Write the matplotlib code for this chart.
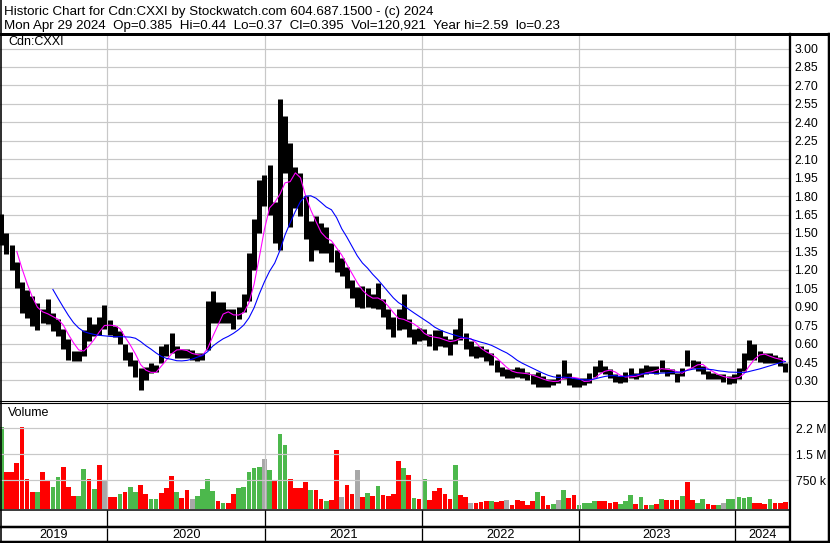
import numpy as np
import pandas as pd
import matplotlib
matplotlib.use('Agg')
import matplotlib.pyplot as plt
import matplotlib.dates as mdates

plt.rcParams['font.family'] = ['Liberation Sans', 'DejaVu Sans']

# ---- data (12-day bins) ----
hi = [1.655, 1.50, 1.40, 1.26, 1.10, 1.04, 0.99, 0.93, 0.88, 0.96,
      0.85, 0.80, 0.72, 0.64, 0.54, 0.54, 0.71, 0.82, 0.76, 0.82,
      0.91, 0.79, 0.74, 0.70, 0.60, 0.53, 0.47, 0.40, 0.41, 0.44,
      0.43, 0.58, 0.60, 0.69, 0.58, 0.56, 0.56, 0.55, 0.52, 0.52,
      0.95, 1.03, 0.94, 0.94, 0.88, 0.88, 0.90, 1.00, 1.34, 1.61,
      1.93, 1.97, 2.05, 1.75, 2.59, 2.45, 2.23, 2.04, 1.99, 1.80,
      1.60, 1.64, 1.58, 1.55, 1.42, 1.36, 1.30, 1.22, 1.12, 1.06,
      1.07, 1.05, 1.00, 1.09, 0.96, 0.88, 0.82, 0.88, 1.00, 0.80,
      0.72, 0.73, 0.72, 0.68, 0.71, 0.71, 0.66, 0.64, 0.72, 0.81,
      0.69, 0.62, 0.58, 0.58, 0.56, 0.52, 0.47, 0.41, 0.39, 0.39,
      0.41, 0.40, 0.37, 0.35, 0.37, 0.34, 0.31, 0.31, 0.35, 0.47,
      0.36, 0.32, 0.32, 0.32, 0.36, 0.42, 0.47, 0.42, 0.39, 0.35,
      0.34, 0.37, 0.40, 0.36, 0.40, 0.43, 0.42, 0.42, 0.47, 0.40,
      0.39, 0.36, 0.40, 0.55, 0.47, 0.46, 0.42, 0.38, 0.36, 0.35,
      0.35, 0.34, 0.35, 0.40, 0.52, 0.63, 0.60, 0.54, 0.52, 0.52,
      0.51, 0.49, 0.44]
lo = [1.40, 1.33, 1.20, 1.05, 0.85, 0.81, 0.74, 0.71, 0.77, 0.76,
      0.70, 0.66, 0.56, 0.47, 0.46, 0.46, 0.50, 0.62, 0.66, 0.67,
      0.72, 0.67, 0.65, 0.60, 0.47, 0.42, 0.33, 0.22, 0.30, 0.36,
      0.37, 0.44, 0.50, 0.52, 0.48, 0.48, 0.48, 0.47, 0.46, 0.47,
      0.55, 0.77, 0.77, 0.77, 0.77, 0.72, 0.80, 0.86, 0.95, 1.20,
      1.50, 1.72, 1.65, 1.42, 1.36, 1.99, 1.55, 1.70, 1.64, 1.45,
      1.27, 1.36, 1.34, 1.34, 1.26, 1.18, 1.15, 1.05, 0.97, 0.90,
      0.89, 0.90, 0.89, 0.88, 0.82, 0.72, 0.65, 0.71, 0.72, 0.65,
      0.60, 0.62, 0.63, 0.58, 0.55, 0.58, 0.57, 0.51, 0.60, 0.63,
      0.56, 0.50, 0.48, 0.49, 0.46, 0.43, 0.37, 0.34, 0.32, 0.32,
      0.33, 0.32, 0.30, 0.27, 0.25, 0.25, 0.25, 0.26, 0.28, 0.31,
      0.26, 0.25, 0.25, 0.26, 0.28, 0.33, 0.37, 0.35, 0.32, 0.29,
      0.28, 0.29, 0.32, 0.31, 0.33, 0.35, 0.36, 0.35, 0.37, 0.34,
      0.35, 0.29, 0.34, 0.42, 0.40, 0.38, 0.35, 0.31, 0.31, 0.31,
      0.29, 0.27, 0.28, 0.31, 0.38, 0.47, 0.47, 0.45, 0.44, 0.44,
      0.44, 0.42, 0.37]
# volume in millions, direction: g = up, r = down, n = unchanged
vol = [2.3, 1.0, 1.0, 1.25, 2.3, 0.8, 0.4, 0.4, 1.0, 0.76,
       0.55, 0.84, 1.12, 0.55, 0.3, 0.3, 1.07, 0.8, 0.5, 1.2,
       0.76, 0.28, 0.28, 0.35, 0.4, 0.57, 0.42, 0.6, 0.35, 0.2,
       0.2, 0.37, 0.52, 0.86, 0.42, 0.25, 0.47, 0.22, 0.3, 0.49,
       0.8, 0.45, 0.15, 0.1, 0.1, 0.35, 0.52, 0.55, 1.0, 1.1,
       1.14, 1.36, 1.05, 0.76, 2.09, 1.77, 0.78, 0.52, 0.52, 0.71,
       0.47, 0.47, 0.2, 0.15, 0.18, 1.62, 0.28, 0.6, 0.35, 1.05,
       0.28, 0.37, 0.3, 0.59, 0.32, 0.3, 0.35, 1.3, 1.1, 0.9,
       0.25, 0.2, 0.79, 0.18, 0.44, 0.54, 0.36, 0.22, 1.19, 0.33,
       0.28, 0.1, 0.1, 0.13, 0.15, 0.15, 0.12, 0.15, 0.18, 0.05,
       0.18, 0.15, 0.05, 0.15, 0.41, 0.3, 0.05, 0.08, 0.18, 0.47,
       0.25, 0.33, 0.05, 0.1, 0.1, 0.14, 0.14, 0.14, 0.1, 0.12,
       0.08, 0.14, 0.33, 0.08, 0.27, 0.05, 0.05, 0.06, 0.2, 0.18,
       0.18, 0.18, 0.3, 0.69, 0.18, 0.1, 0.2, 0.08, 0.05, 0.05,
       0.09, 0.2, 0.2, 0.26, 0.23, 0.26, 0.1, 0.1, 0.08, 0.2,
       0.1, 0.1, 0.12]
vol_dir = list("grrrrrrgrr"
               "ggrrrggrgr"
               "nrrgrggrrg"
               "grrrgrrngg"
               "ggrgrrgggg"
               "gngrggrrrr"
               "grrgrrnrrn"
               "rgrgrrrrgr"
               "grgrrrrrgr"
               "rnrrrgrrnr"
               "rrrrgrrgng"
               "rrggggrrrr"
               "gggrgrgrgr"
               "rrgrrggrrg"
               "ngggggrrrg"
               "rrr")
price_ticks = [0.30, 0.45, 0.60, 0.75, 0.90, 1.05, 1.20, 1.35, 1.50,
               1.65, 1.80, 1.95, 2.10, 2.25, 2.40, 2.55, 2.70, 2.85, 3.00]
vol_ticks = [0.75e6, 1.5e6, 2.25e6]
vol_tick_labels = ['750 k', '1.5 M', '2.2 M']
years = [2019, 2020, 2021, 2022, 2023, 2024]

dates = pd.date_range('2019-04-29', periods=len(hi), freq='12D')
high = np.array(hi)
low = np.array(lo)
mid = pd.Series((high + low) / 2)
ma_short = mid.rolling(4).mean()
ma_long = mid.rolling(11).mean()

W, H = 830, 543
fig = plt.figure(figsize=(W / 100, H / 100), dpi=100)
fig.patch.set_facecolor('white')


def box(x0, y0, x1, y1):
    return [x0 / W, 1 - y1 / H, (x1 - x0) / W, (y1 - y0) / H]


jan2020 = mdates.date2num(pd.Timestamp('2020-01-01'))
px_day = 157 / 365.25
x_left = jan2020 - 107.5 / px_day
x_right = jan2020 + (789 - 107.5) / px_day
year_starts = [mdates.date2num(pd.Timestamp(f'{y}-01-01')) for y in years[1:]]
grid_c = '#c8c8c8'
px = 0.72

# ---- price panel ----
ax = fig.add_axes(box(0, 35, 789, 400))
ax.set_xlim(x_left, x_right)
ax.set_ylim(0.1414, 3.110)
ax.yaxis.tick_right()
ax.set_yticks(price_ticks)
ax.set_yticklabels([f'{v:.2f}' for v in price_ticks])
ax.tick_params(axis='y', length=0, pad=4, labelsize=8.8)
ax.set_xticks(year_starts)
ax.tick_params(axis='x', length=0, labelbottom=False)
ax.grid(True, color=grid_c, linewidth=1.2 * px)
for s in ax.spines.values():
    s.set_visible(False)
ax.vlines(dates, low, high, color='black', linewidth=5.0 * px)
ax.plot(dates, ma_short, color='#ff00ff', linewidth=1.1 * px)
ax.plot(dates, ma_long, color='#0000ff', linewidth=1.1 * px)

# ---- volume panel ----
vlow = -0.078e6
av = fig.add_axes(box(0, 404, 789, 509))
av.set_xlim(x_left, x_right)
av.set_ylim(vlow, (506.3 - 404) / 26 * 0.75e6)
av.yaxis.tick_right()
av.set_yticks(vol_ticks)
av.set_yticklabels(vol_tick_labels)
av.tick_params(axis='y', length=0, pad=5, labelsize=8.8)
av.set_xticks(year_starts)
av.tick_params(axis='x', length=0, labelbottom=False)
av.grid(True, color=grid_c, linewidth=1.2 * px)
for s in av.spines.values():
    s.set_visible(False)
cmap = {'g': '#4cb84c', 'r': '#ff0000', 'n': '#a8a8a8'}
vol_sh = np.array(vol) * 1e6
av.bar(dates, vol_sh - vlow, bottom=vlow, width=11.0,
       color=[cmap[c] for c in vol_dir], linewidth=0)

# ---- empty strip and year row ----
ast = fig.add_axes(box(0, 510, 789, 526))
ast.set_xlim(x_left, x_right)
ast.set_ylim(0, 1)
ast.axis('off')
ast.vlines(year_starts, 0, 1, color='black', linewidth=1.3 * px)

ay = fig.add_axes(box(0, 528, 789, 541))
ay.set_xlim(x_left, x_right)
ay.set_ylim(0, 1)
ay.axis('off')
ay.vlines(year_starts, 0, 1, color='black', linewidth=1.3 * px)
edges = [x_left] + year_starts + [x_right]
for i, y in enumerate(years):
    ay.text((edges[i] + edges[i + 1]) / 2, 0.45, str(y), ha='center',
            va='center', fontsize=9.2)

# ---- frame, header ----
ov = fig.add_axes([0, 0, 1, 1])
ov.set_xlim(0, W)
ov.set_ylim(H, 0)
ov.axis('off')
ov.patch.set_visible(False)
k = 'black'
ov.plot([0, W], [34, 34], color=k, linewidth=3 * px)
ov.plot([0.8, 0.8], [0, H], color=k, linewidth=1.6 * px)
ov.plot([828.5, 828.5], [34, H], color=k, linewidth=2.5 * px)
ov.plot([789.5, 789.5], [34, 541], color=k, linewidth=2.3 * px)
ov.plot([0, W], [400.7, 400.7], color=k, linewidth=1.1 * px)
ov.plot([0, 789], [403.3, 403.3], color=k, linewidth=1.1 * px)
ov.plot([0, 789], [510, 510], color=k, linewidth=1.5 * px)
ov.plot([0, 789], [527, 527], color=k, linewidth=2.5 * px)
ov.plot([0, W], [542, 542], color=k, linewidth=2.5 * px)

ov.text(4, 15, 'Historic Chart for Cdn:CXXI by Stockwatch.com 604.687.1500 - (c) 2024',
        fontsize=9.6, va='baseline')
ov.text(4, 29.5, 'Mon Apr 29 2024  Op=0.385  Hi=0.44  Lo=0.37  Cl=0.395  '
        'Vol=120,921  Year hi=2.59  lo=0.23', fontsize=9.6, va='baseline')
ov.text(8, 42, 'Cdn:CXXI', fontsize=9.0, va='center')
ov.text(8, 413, 'Volume', fontsize=9.0, va='center')

fig.savefig('out.png', dpi=100)
